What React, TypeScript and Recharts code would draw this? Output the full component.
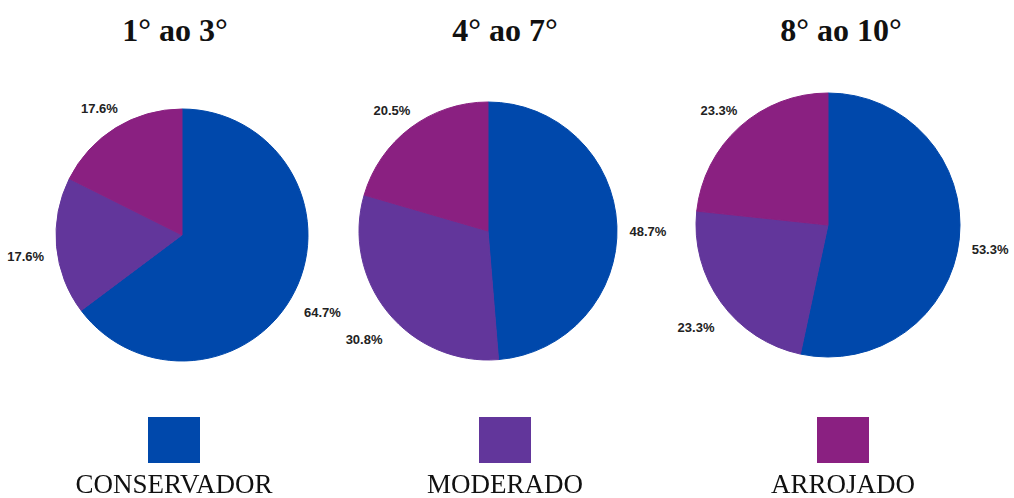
import React from "react";
import { PieChart, Pie, Cell } from "recharts";

const categories = ["CONSERVADOR", "MODERADO", "ARROJADO"];
const colors = ["#0048AB", "#62369B", "#8A2081"];
const groupTitles = ["1° ao 3°", "4° ao 7°", "8° ao 10°"];
const grupo1a3 = [64.7, 17.6, 17.6];
const grupo4a7 = [48.7, 30.8, 20.5];
const grupo8a10 = [53.3, 23.3, 23.3];

const seriesValues = [grupo1a3, grupo4a7, grupo8a10];

// pie centers are relative to the chart's 5px default margin
const pieLayout = [
  { cx: 177, cy: 230, r: 126 },
  { cx: 483, cy: 226, r: 129 },
  { cx: 823, cy: 220, r: 132 },
];

const titleX = [175, 505, 841];
const legendX = [174, 505, 843];

const RADIAN = Math.PI / 180;

const renderLabel = (props: any) => {
  const { cx, cy, midAngle, outerRadius, value } = props;
  const r = outerRadius + 31;
  const x = cx + r * Math.cos(-midAngle * RADIAN);
  const y = cy + r * Math.sin(-midAngle * RADIAN) + 7;
  return (
    <text
      x={x}
      y={y}
      textAnchor="middle"
      dominantBaseline="central"
      fill="#222"
      fontFamily="'Liberation Sans', Arial, sans-serif"
      fontWeight="bold"
      fontSize={13}
    >
      {`${value.toFixed(1)}%`}
    </text>
  );
};

export default function App() {
  const tables = seriesValues.map((vals) =>
    vals.map((v, i) => ({ name: categories[i], value: v }))
  );

  return (
    <div
      style={{
        position: "fixed",
        left: 0,
        top: 0,
        width: 1014,
        height: 498,
        background: "#fff",
      }}
    >
      <PieChart width={1014} height={498}>
        {tables.map((data, k) => (
          <Pie
            key={k}
            data={data}
            dataKey="value"
            nameKey="name"
            cx={pieLayout[k].cx}
            cy={pieLayout[k].cy}
            outerRadius={pieLayout[k].r}
            startAngle={90}
            endAngle={-270}
            label={renderLabel}
            labelLine={false}
            isAnimationActive={false}
          >
            {data.map((d, i) => (
              <Cell key={d.name} fill={colors[i]} stroke={colors[i]} />
            ))}
          </Pie>
        ))}
      </PieChart>

      {groupTitles.map((t, k) => (
        <div
          key={t}
          style={{
            position: "absolute",
            left: titleX[k] - 150,
            width: 300,
            top: 10,
            textAlign: "center",
            fontFamily: "'Liberation Serif', 'Times New Roman', serif",
            fontWeight: "bold",
            fontSize: 32,
            lineHeight: "40px",
            color: "#111",
          }}
        >
          {t}
        </div>
      ))}

      {categories.map((c, i) => (
        <React.Fragment key={c}>
          <div
            style={{
              position: "absolute",
              left: legendX[i] - 26,
              top: 417,
              width: 52,
              height: 46,
              background: colors[i],
            }}
          />
          <div
            style={{
              position: "absolute",
              left: legendX[i] - 150,
              width: 300,
              top: 469,
              textAlign: "center",
              fontFamily: "'Liberation Serif', 'Times New Roman', serif",
              fontSize: 27,
              lineHeight: "30px",
              color: "#111",
            }}
          >
            {c}
          </div>
        </React.Fragment>
      ))}
    </div>
  );
}
